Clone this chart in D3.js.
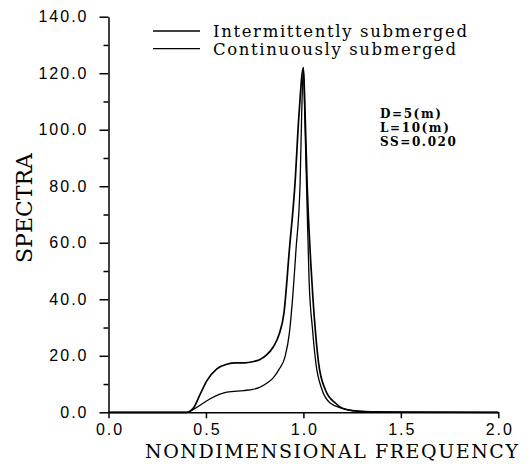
<!DOCTYPE html>
<head>
	<script src="https://d3js.org/d3.v7.min.js"></script>
	<style>
		body { margin: 0; background: #fff; }
	</style>
</head>
<body>
	<script type="text/javascript">

		// curves
		var freqInt = [0, 0.30, 0.40, 0.42, 0.437, 0.471, 0.505, 0.556, 0.607, 0.65, 0.70, 0.74, 0.775, 0.81, 0.846, 0.875, 0.90, 0.928, 0.957, 0.977, 1.0, 1.009, 1.019, 1.043, 1.061, 1.078, 1.113, 1.165, 1.2, 1.25, 1.35, 1.5, 2.0];
		var specInt = [0, 0, 0, 0.5, 1.6, 6.5, 11.2, 15.4, 17.0, 17.5, 17.5, 17.9, 18.6, 20.2, 23.2, 27.5, 35, 57.5, 81, 105, 122, 105, 81, 47, 29.2, 17.4, 7.9, 3.2, 1.4, 0.6, 0.2, 0.05, 0];

		var freqCon = [0, 0.30, 0.40, 0.42, 0.454, 0.522, 0.607, 0.693, 0.74, 0.775, 0.81, 0.845, 0.875, 0.906, 0.928, 0.943, 0.962, 0.983, 0.991, 1.0, 1.007, 1.016, 1.029, 1.047, 1.064, 1.096, 1.139, 1.2, 1.25, 1.35, 1.5, 2.0];
		var specCon = [0, 0, 0, 0.4, 1.8, 4.8, 7.1, 7.7, 8.1, 8.8, 10.2, 12.2, 15.2, 19.7, 28, 39, 57.5, 81, 105, 122, 105, 81, 47, 29.2, 17.4, 7.9, 3.2, 1.4, 0.6, 0.2, 0.05, 0];

		var xTicks = [0, 0.5, 1.0, 1.5, 2.0];
		var yTicks = [0, 20, 40, 60, 80, 100, 120, 140];
		var yMinor = [10, 30, 50, 70, 90, 110, 130];

		var legendNames = ["Intermittently submerged", "Continuously submerged"];
		var noteLines = ["D=5(m)", "L=10(m)", "SS=0.020"];

		var w = 528;
		var h = 464;
		var svg = d3.select("body")
				.append("svg")
				.attr("width", w)
				.attr("height", h);

		var xScale = d3.scaleLinear()
					.domain([0, 2])
					.range([108.5, 498.3]);

		var yScale = d3.scaleLinear()
					.domain([0, 140])
					.range([412.3, 16.7]);

		// axes
		var xAxis = d3.axisBottom(xScale)
					.tickValues(xTicks)
					.tickFormat(d3.format(".1f"))
					.tickSize(6)
					.tickSizeOuter(0)
					.tickPadding(5);

		var yAxis = d3.axisLeft(yScale)
					.tickValues(yTicks)
					.tickFormat(d3.format(".1f"))
					.tickSize(9)
					.tickSizeOuter(0)
					.tickPadding(11);

		var yAxisMinor = d3.axisLeft(yScale)
					.tickValues(yMinor)
					.tickFormat("")
					.tickSize(5)
					.tickSizeOuter(0);

		var gx = svg.append("g")
				.attr("transform", "translate(0," + yScale(0) + ")")
				.call(xAxis);

		var gy = svg.append("g")
				.attr("transform", "translate(" + xScale(0) + ",0)")
				.call(yAxis);

		svg.append("g")
			.attr("transform", "translate(" + xScale(0) + ",0)")
			.call(yAxisMinor)
			.select(".domain").remove();

		svg.selectAll(".domain, .tick line")
			.attr("stroke", "#000")
			.attr("stroke-width", 1.5);

		svg.selectAll(".tick text")
			.attr("fill", "#000")
			.style("font-family", "'Liberation Sans', Arial, sans-serif")
			.style("font-size", "16px")
			.style("letter-spacing", "2px");

		gx.selectAll(".tick text").attr("dx", "1px");

		// curves
		var line = d3.line()
					.x(function(d){ return xScale(d[0]); })
					.y(function(d){ return yScale(d[1]); })
					.curve(d3.curveMonotoneX);

		var intData = d3.zip(freqInt, specInt);
		var conData = d3.zip(freqCon, specCon);

		svg.append("path")
			.datum(intData)
			.attr("d", line)
			.attr("fill", "none")
			.attr("stroke", "#000")
			.attr("stroke-width", 1.7);

		svg.append("path")
			.datum(conData)
			.attr("d", line)
			.attr("fill", "none")
			.attr("stroke", "#000")
			.attr("stroke-width", 1.3);

		// legend
		var legendWidths = [254, 243];
		var legendStroke = [1.7, 1.3];
		var legend = svg.selectAll(".legend")
					.data(legendNames)
					.enter()
					.append("g")
					.attr("class", "legend")
					.attr("transform", function(d, i){
						return "translate(0," + (31 + i * 17.7) + ")";
					});

		legend.append("line")
			.attr("x1", 153)
			.attr("x2", 200)
			.attr("stroke", "#000")
			.attr("stroke-width", function(d, i){ return legendStroke[i]; });

		legend.append("text")
			.attr("x", 213)
			.attr("y", 6.3)
			.attr("textLength", function(d, i){ return legendWidths[i]; })
			.attr("lengthAdjust", "spacing")
			.style("font-family", "'DejaVu Serif', serif")
			.style("font-size", "16.5px")
			.text(function(d){ return d; });

		// parameter note
		svg.selectAll(".note")
			.data(noteLines)
			.enter()
			.append("text")
			.attr("class", "note")
			.attr("x", 380)
			.attr("y", function(d, i){ return 118 + i * 14; })
			.style("font-family", "'DejaVu Serif', serif")
			.style("font-size", "12px")
			.style("font-weight", "bold")
			.style("letter-spacing", "1.6px")
			.text(function(d){ return d; });

		// axis titles
		svg.append("text")
			.attr("x", 331.5)
			.attr("y", 458)
			.attr("text-anchor", "middle")
			.attr("textLength", 373)
			.attr("lengthAdjust", "spacing")
			.style("font-family", "'DejaVu Serif', serif")
			.style("font-size", "19px")
			.text("NONDIMENSIONAL FREQUENCY");

		svg.append("text")
			.attr("transform", "translate(32,208) rotate(-90)")
			.attr("text-anchor", "middle")
			.attr("textLength", 110)
			.attr("lengthAdjust", "spacing")
			.style("font-family", "'DejaVu Serif', serif")
			.style("font-size", "22px")
			.text("SPECTRA");

	</script>
</body>
